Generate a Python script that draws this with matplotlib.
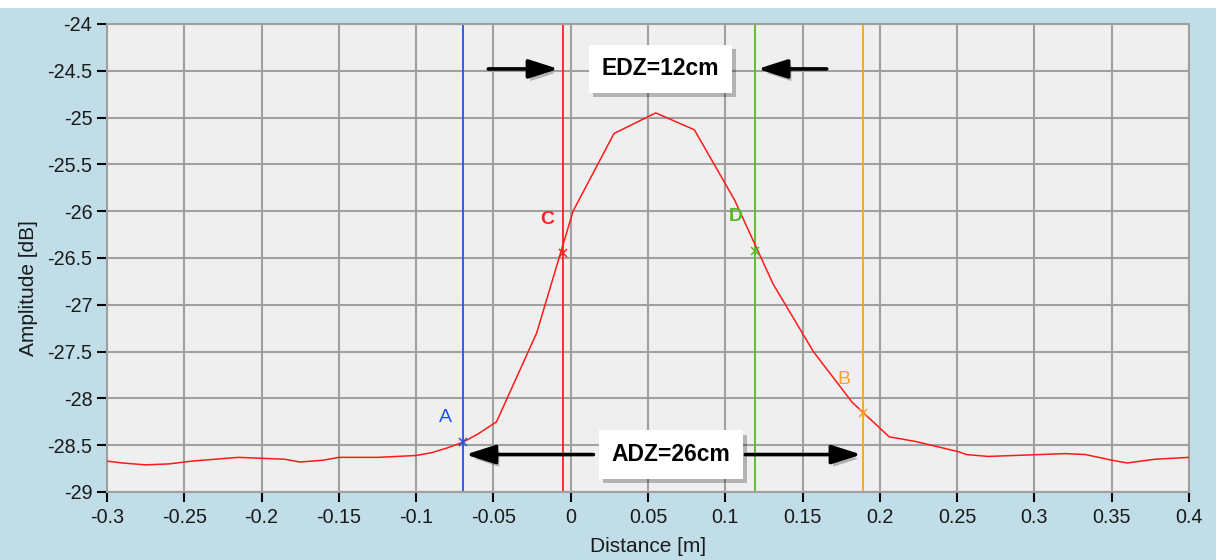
import matplotlib
matplotlib.use("Agg")
import matplotlib.pyplot as plt
import matplotlib.patheffects as pe
from matplotlib.patches import Rectangle

# ---- data ----
distance = [-0.30, -0.29, -0.275, -0.26, -0.245, -0.23, -0.215, -0.20, -0.185,
            -0.175, -0.16, -0.15, -0.125, -0.10, -0.09, -0.08, -0.07, -0.06,
            -0.048, -0.022, 0.0015, 0.028, 0.055, 0.080, 0.106, 0.131, 0.157,
            0.182, 0.206, 0.223, 0.251, 0.256, 0.27, 0.32, 0.333, 0.35, 0.36,
            0.378, 0.40]
amplitude = [-28.67, -28.69, -28.71, -28.70, -28.67, -28.65, -28.63, -28.64, -28.65,
             -28.68, -28.66, -28.63, -28.63, -28.61, -28.58, -28.53, -28.47, -28.38,
             -28.25, -27.30, -26.00, -25.17, -24.95, -25.13, -25.88, -26.78, -27.50,
             -28.04, -28.41, -28.46, -28.57, -28.60, -28.62, -28.59, -28.60, -28.66, -28.69,
             -28.65, -28.63]

marker_names = ["A", "C", "D", "B"]
marker_x = [-0.07, -0.005, 0.119, 0.189]
marker_y = [-28.47, -26.45, -26.43, -28.16]
marker_colors = ["#2255dd", "#ff2020", "#55bb22", "#ffa020"]
marker_label_pos = [(-0.081, -28.2), (-0.0153, -26.09), (0.1067, -26.06), (0.1768, -27.80)]
marker_label_bold = [False, True, True, False]

edz_text = "EDZ=12cm"
adz_text = "ADZ=26cm"

x_ticks = [-0.3, -0.25, -0.2, -0.15, -0.1, -0.05, 0, 0.05, 0.1, 0.15, 0.2, 0.25, 0.3, 0.35, 0.4]
x_ticklabels = ["-0.3", "-0.25", "-0.2", "-0.15", "-0.1", "-0.05", "0", "0.05", "0.1",
                "0.15", "0.2", "0.25", "0.3", "0.35", "0.4"]
y_ticks = [-29, -28.5, -28, -27.5, -27, -26.5, -26, -25.5, -25, -24.5, -24]
y_ticklabels = ["-29", "-28.5", "-28", "-27.5", "-27", "-26.5", "-26", "-25.5", "-25", "-24.5", "-24"]

plt.rcParams['font.family'] = ['Liberation Sans', 'DejaVu Sans']

W, H = 1216, 560
fig = plt.figure(figsize=(W / 100, H / 100), dpi=100)
fig.patch.set_facecolor("#c0dde8")
fig.add_artist(Rectangle((0, 1 - 8 / H), 1, 8 / H, transform=fig.transFigure,
                         facecolor="white", edgecolor="none", zorder=-1))

left, right, top, bottom = 107, 1189, 24, 492
ax = fig.add_axes([left / W, 1 - bottom / H, (right - left) / W, (bottom - top) / H])
ax.set_facecolor("#efefef")
ax.set_xlim(-0.3, 0.4)
ax.set_ylim(-29, -24)
ax.set_xticks(x_ticks)
ax.set_xticklabels(x_ticklabels)
ax.set_yticks(y_ticks)
ax.set_yticklabels(y_ticklabels)
ax.grid(True, color="#a0a0a0", linewidth=1.5)
ax.set_axisbelow(True)
for s in ax.spines.values():
    s.set_color("#a0a0a0")
    s.set_linewidth(1.5)
ax.tick_params(axis="x", direction="out", length=7.2, width=1.5, color="black",
               labelsize=14.2, pad=4.0, labelcolor="#1a1a1a")
ax.tick_params(axis="y", direction="out", length=7.2, width=1.5, color="black",
               labelsize=14.2, pad=3.4, labelcolor="#1a1a1a")
ax.set_xlabel("Distance [m]", fontsize=15, labelpad=7.5, color="#1a1a1a")
ax.set_ylabel("Amplitude [dB]", fontsize=15, color="#1a1a1a")
ax.yaxis.set_label_coords((38 - left) / (right - left), (bottom - 288) / (bottom - top))

# curve
ax.plot(distance, amplitude, color="#ff1a1a", linewidth=1.1, zorder=3)

# vertical marker lines and markers
for name, mx, my, c, (lx, ly), bold in zip(marker_names, marker_x, marker_y, marker_colors,
                                           marker_label_pos, marker_label_bold):
    ax.axvline(mx, color=c, linewidth=1.3, zorder=2)
    ax.plot([mx], [my], marker="x", color=c, markersize=6, mew=1.1, zorder=4)
    ax.text(lx, ly, name, color=c, fontsize=14, ha="center", va="center",
            fontweight="bold" if bold else "normal", zorder=5)

shadow = [pe.withSimplePatchShadow(offset=(3, -3), shadow_rgbFace="black", alpha=0.25)]

def box(x, y, s):
    t = ax.text(x, y, s, fontsize=16.5, fontweight="bold", ha="center", va="center", zorder=6,
                bbox=dict(boxstyle="square,pad=0.55", facecolor="white", edgecolor="none"))
    t.get_bbox_patch().set_path_effects(shadow)

box(0.058, -24.48, edz_text)
box(0.065, -28.60, adz_text)

def arrow(x0, x1, y):
    a = ax.annotate("", xy=(x1, y), xytext=(x0, y), zorder=6,
                    arrowprops=dict(arrowstyle="-|>,head_length=1.0,head_width=0.32",
                                    lw=2.6, color="black", shrinkA=0, shrinkB=0,
                                    mutation_scale=18))
    a.arrow_patch.set_path_effects([pe.SimplePatchShadow(offset=(2, -3), alpha=0.25), pe.Normal()])

arrow(-0.0533, -0.008, -24.48)
arrow(0.1656, 0.121, -24.48)
arrow(0.0147, -0.068, -28.60)
arrow(0.113, 0.188, -28.60)

fig.savefig("out.png", dpi=100, facecolor=fig.get_facecolor())
